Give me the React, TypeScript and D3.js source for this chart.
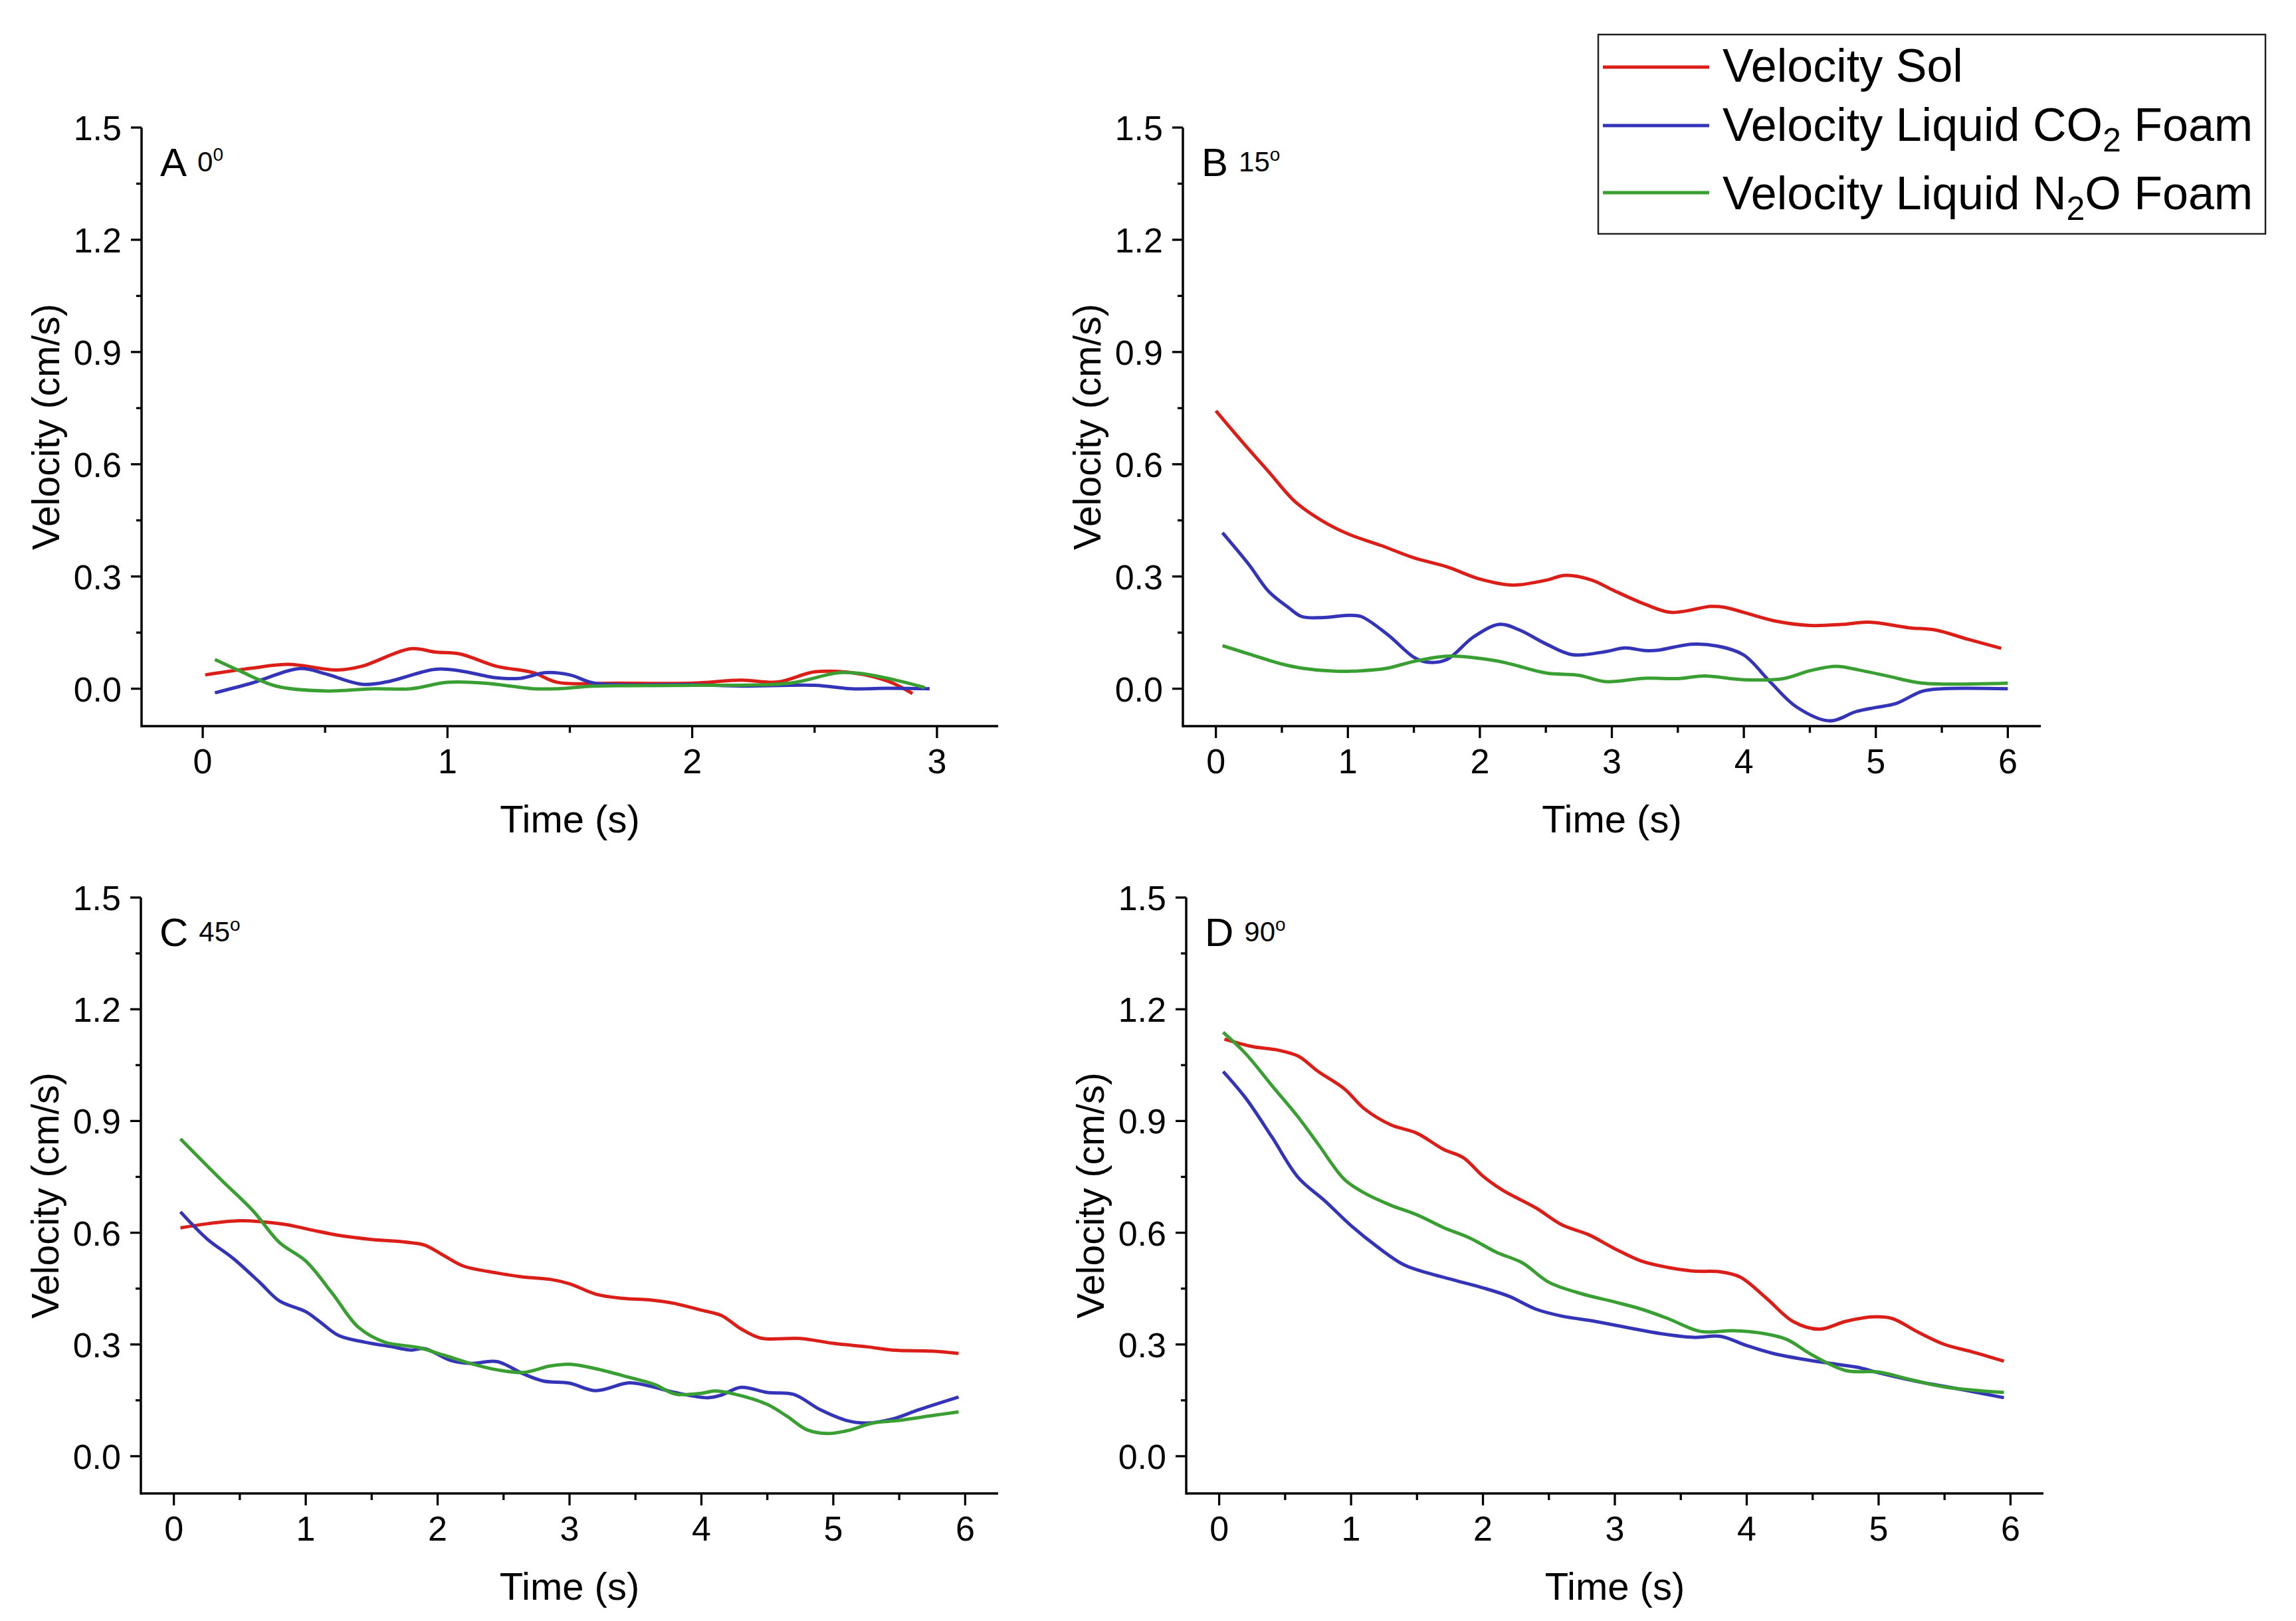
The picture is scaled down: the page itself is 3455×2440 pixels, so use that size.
import React from 'react';
import * as d3 from 'd3';

type Pt = [number, number];

// series values: [time (s), velocity (cm/s)]
const solA: Pt[] = [[0.01, 0.037], [0.2, 0.055], [0.35, 0.065], [0.55, 0.05], [0.65, 0.06], [0.85, 0.107], [0.95, 0.098], [1.05, 0.093], [1.2, 0.06], [1.35, 0.043], [1.45, 0.017], [1.7, 0.015], [2.0, 0.015], [2.2, 0.023], [2.35, 0.018], [2.5, 0.045], [2.65, 0.043], [2.8, 0.02], [2.9, -0.013]];
const co2A: Pt[] = [[0.05, -0.011], [0.2, 0.015], [0.4, 0.054], [0.5, 0.04], [0.65, 0.012], [0.75, 0.018], [0.95, 0.052], [1.05, 0.048], [1.2, 0.029], [1.3, 0.028], [1.4, 0.043], [1.5, 0.037], [1.6, 0.015], [2.0, 0.011], [2.2, 0.007], [2.5, 0.009], [2.65, 0], [2.8, 0.001], [2.97, 0]];
const n2oA: Pt[] = [[0.05, 0.078], [0.15, 0.048], [0.3, 0.007], [0.5, -0.006], [0.7, 0], [0.85, 0], [1.0, 0.017], [1.15, 0.015], [1.35, 0], [1.45, 0], [1.6, 0.007], [2.0, 0.009], [2.4, 0.015], [2.6, 0.043], [2.7, 0.04], [2.85, 0.02], [2.95, 0.003]];

const solB: Pt[] = [[0, 0.743], [0.2, 0.66], [0.4, 0.58], [0.6, 0.5], [0.8, 0.45], [1.0, 0.414], [1.25, 0.383], [1.5, 0.35], [1.75, 0.326], [2.0, 0.293], [2.25, 0.277], [2.5, 0.29], [2.65, 0.303], [2.85, 0.29], [3.0, 0.265], [3.25, 0.226], [3.45, 0.204], [3.75, 0.22], [3.85, 0.218], [4.0, 0.204], [4.25, 0.18], [4.5, 0.169], [4.75, 0.172], [4.95, 0.178], [5.25, 0.163], [5.45, 0.157], [5.7, 0.132], [5.95, 0.108]];
const co2B: Pt[] = [[0.05, 0.417], [0.25, 0.332], [0.4, 0.26], [0.55, 0.217], [0.65, 0.193], [0.8, 0.19], [1.0, 0.196], [1.1, 0.193], [1.3, 0.145], [1.5, 0.084], [1.6, 0.071], [1.75, 0.078], [1.95, 0.138], [2.15, 0.172], [2.3, 0.157], [2.5, 0.12], [2.7, 0.091], [2.95, 0.099], [3.1, 0.109], [3.25, 0.102], [3.35, 0.103], [3.6, 0.119], [3.8, 0.114], [4.0, 0.09], [4.2, 0.018], [4.4, -0.049], [4.65, -0.086], [4.85, -0.061], [5.0, -0.05], [5.15, -0.04], [5.35, -0.007], [5.5, 0], [6.0, 0]];
const n2oB: Pt[] = [[0.05, 0.115], [0.25, 0.093], [0.5, 0.066], [0.65, 0.055], [0.9, 0.047], [1.1, 0.048], [1.3, 0.055], [1.5, 0.073], [1.75, 0.087], [2.0, 0.081], [2.2, 0.069], [2.5, 0.042], [2.75, 0.036], [2.95, 0.019], [3.25, 0.028], [3.5, 0.027], [3.7, 0.034], [4.0, 0.024], [4.3, 0.027], [4.5, 0.048], [4.7, 0.06], [4.9, 0.048], [5.1, 0.033], [5.35, 0.015], [6.0, 0.015]];

const solC: Pt[] = [[0.05, 0.613], [0.25, 0.624], [0.5, 0.632], [0.65, 0.63], [0.85, 0.622], [1.05, 0.607], [1.25, 0.593], [1.5, 0.582], [1.75, 0.575], [1.9, 0.567], [2.05, 0.538], [2.2, 0.51], [2.45, 0.492], [2.65, 0.481], [2.85, 0.475], [3.0, 0.463], [3.2, 0.435], [3.4, 0.424], [3.6, 0.42], [3.8, 0.41], [4.0, 0.392], [4.15, 0.378], [4.3, 0.342], [4.45, 0.317], [4.75, 0.316], [5.0, 0.303], [5.25, 0.294], [5.45, 0.285], [5.75, 0.282], [5.95, 0.276]];
const co2C: Pt[] = [[0.05, 0.656], [0.25, 0.584], [0.45, 0.531], [0.65, 0.467], [0.8, 0.417], [1.0, 0.388], [1.1, 0.363], [1.25, 0.324], [1.45, 0.306], [1.65, 0.294], [1.8, 0.285], [1.9, 0.289], [2.1, 0.257], [2.25, 0.249], [2.45, 0.254], [2.65, 0.221], [2.8, 0.202], [3.0, 0.196], [3.2, 0.176], [3.45, 0.197], [3.6, 0.189], [3.8, 0.171], [4.05, 0.157], [4.15, 0.164], [4.3, 0.185], [4.5, 0.171], [4.7, 0.166], [4.9, 0.125], [5.1, 0.096], [5.25, 0.089], [5.45, 0.1], [5.65, 0.125], [5.95, 0.159]];
const n2oC: Pt[] = [[0.05, 0.852], [0.35, 0.745], [0.6, 0.659], [0.8, 0.574], [1.0, 0.524], [1.2, 0.438], [1.4, 0.346], [1.6, 0.306], [1.85, 0.292], [2.05, 0.271], [2.25, 0.249], [2.45, 0.232], [2.65, 0.225], [2.85, 0.242], [3.0, 0.247], [3.2, 0.235], [3.45, 0.212], [3.65, 0.192], [3.8, 0.167], [4.0, 0.169], [4.1, 0.175], [4.25, 0.167], [4.5, 0.139], [4.65, 0.107], [4.8, 0.071], [4.95, 0.061], [5.1, 0.068], [5.3, 0.089], [5.5, 0.096], [5.75, 0.109], [5.95, 0.119]];

const solD: Pt[] = [[0.04, 1.12], [0.25, 1.1], [0.45, 1.09], [0.6, 1.074], [0.75, 1.033], [0.95, 0.986], [1.1, 0.933], [1.3, 0.89], [1.5, 0.867], [1.7, 0.824], [1.85, 0.802], [2.0, 0.752], [2.15, 0.714], [2.4, 0.667], [2.6, 0.621], [2.8, 0.595], [3.0, 0.557], [3.2, 0.524], [3.4, 0.507], [3.6, 0.497], [3.8, 0.495], [3.95, 0.481], [4.15, 0.424], [4.35, 0.362], [4.55, 0.341], [4.75, 0.362], [4.95, 0.374], [5.1, 0.37], [5.3, 0.333], [5.5, 0.3], [5.7, 0.281], [5.95, 0.255]];
const co2D: Pt[] = [[0.03, 1.033], [0.2, 0.962], [0.4, 0.857], [0.6, 0.748], [0.8, 0.686], [1.0, 0.619], [1.2, 0.562], [1.4, 0.514], [1.6, 0.49], [1.8, 0.471], [2.0, 0.452], [2.2, 0.429], [2.4, 0.395], [2.6, 0.376], [2.85, 0.362], [3.1, 0.345], [3.35, 0.329], [3.6, 0.319], [3.8, 0.322], [4.0, 0.297], [4.2, 0.276], [4.45, 0.259], [4.7, 0.246], [4.85, 0.238], [5.0, 0.224], [5.3, 0.2], [5.6, 0.181], [5.95, 0.157]];
const n2oD: Pt[] = [[0.03, 1.138], [0.2, 1.081], [0.4, 0.995], [0.6, 0.91], [0.75, 0.838], [0.95, 0.743], [1.1, 0.707], [1.3, 0.674], [1.5, 0.648], [1.7, 0.614], [1.9, 0.586], [2.1, 0.548], [2.3, 0.519], [2.5, 0.467], [2.75, 0.436], [3.0, 0.414], [3.2, 0.395], [3.4, 0.37], [3.65, 0.335], [3.9, 0.337], [4.1, 0.331], [4.3, 0.314], [4.5, 0.271], [4.75, 0.23], [5.0, 0.226], [5.25, 0.205], [5.5, 0.186], [5.95, 0.171]];

const seriesNames = ['Velocity Sol', 'Velocity Liquid CO2 Foam', 'Velocity Liquid N2O Foam'];
const seriesColors = ['#DC1E18', '#3434B8', '#3A9F32'];
const yTicks = [0, 0.3, 0.6, 0.9, 1.2, 1.5];
const xTicksShort = [0, 1, 2, 3];
const xTicksLong = [0, 1, 2, 3, 4, 5, 6];

const FONT = '"Liberation Sans", Arial, Helvetica, sans-serif';

interface PanelDef {
  letter: string;
  angle: string;
  supText: string;
  xMax: number;
  xTicks: number[];
  series: Pt[][];
  left: number;
  right: number;
  top: number;
  bottom: number;
}

const panels: PanelDef[] = [
  { letter: 'A', angle: '0', supText: '0', xMax: 3, xTicks: xTicksShort, series: [solA, co2A, n2oA], left: 213, right: 1502, top: 192, bottom: 1093 },
  { letter: 'B', angle: '15', supText: 'o', xMax: 6, xTicks: xTicksLong, series: [solB, co2B, n2oB], left: 1780, right: 3071, top: 192, bottom: 1093 },
  { letter: 'C', angle: '45', supText: 'o', xMax: 6, xTicks: xTicksLong, series: [solC, co2C, n2oC], left: 212, right: 1502, top: 1351, bottom: 2248 },
  { letter: 'D', angle: '90', supText: 'o', xMax: 6, xTicks: xTicksLong, series: [solD, co2D, n2oD], left: 1785, right: 3075, top: 1351, bottom: 2248 },
];

const Panel: React.FC<{ p: PanelDef }> = ({ p }) => {
  const x = d3.scaleLinear().domain([-0.25, p.xMax + 0.25]).range([p.left, p.right]);
  const y = d3.scaleLinear().domain([-0.1, 1.5]).range([p.bottom, p.top]);
  const line = d3
    .line<Pt>()
    .x((d) => x(d[0]))
    .y((d) => y(d[1]))
    .curve(d3.curveCatmullRom.alpha(0.5));

  const xMinor = p.xTicks.slice(0, -1).map((t) => t + 0.5);
  const yMinor = yTicks.slice(0, -1).map((t) => t + 0.15);
  const cx = (p.left + p.right) / 2;
  const cy = (p.top + p.bottom) / 2;

  return (
    <g fontFamily={FONT}>
      {p.series.map((s, i) => (
        <path key={i} d={line(s) || ''} fill="none" stroke={seriesColors[i]} strokeWidth={5} strokeLinejoin="round" />
      ))}

      {/* axes */}
      <line x1={p.left} x2={p.right} y1={p.bottom} y2={p.bottom} stroke="#000" strokeWidth={3.5} />
      <line x1={p.left} x2={p.left} y1={p.top} y2={p.bottom + 1.75} stroke="#000" strokeWidth={3.5} />

      {p.xTicks.map((t) => (
        <g key={'x' + t}>
          <line x1={x(t)} x2={x(t)} y1={p.bottom} y2={p.bottom + 18} stroke="#000" strokeWidth={3.3} />
          <text x={x(t)} y={p.bottom + 71} fontSize={52} textAnchor="middle">{t}</text>
        </g>
      ))}
      {xMinor.map((t) => (
        <line key={'xm' + t} x1={x(t)} x2={x(t)} y1={p.bottom} y2={p.bottom + 10} stroke="#000" strokeWidth={3.3} />
      ))}

      {yTicks.map((t) => (
        <g key={'y' + t}>
          <line x1={p.left - 16} x2={p.left} y1={y(t)} y2={y(t)} stroke="#000" strokeWidth={3.3} />
          <text x={p.left - 30} y={y(t) + 19} fontSize={52} textAnchor="end">{t.toFixed(1)}</text>
        </g>
      ))}
      {yMinor.map((t) => (
        <line key={'ym' + t} x1={p.left - 8} x2={p.left} y1={y(t)} y2={y(t)} stroke="#000" strokeWidth={3.3} />
      ))}

      {/* axis titles */}
      <text x={cx} y={p.bottom + 160} fontSize={58} textAnchor="middle">Time (s)</text>
      <text transform={`translate(${p.left - 124},${cy}) rotate(-90)`} fontSize={57} textAnchor="middle">Velocity (cm/s)</text>

      {/* panel label */}
      <text x={p.left + 28} y={p.top + 73} fontSize={60}>
        {p.letter}
        <tspan fontSize={42} dx={16} dy={-7}>{p.angle}</tspan>
        <tspan fontSize={28} dy={-16}>{p.supText}</tspan>
      </text>
    </g>
  );
};

const Legend: React.FC = () => {
  const rows = [101, 189, 290];
  const base = [123, 212, 315];
  return (
    <g fontFamily={FONT}>
      <rect x={2405} y={52} width={1004} height={300} fill="#fff" stroke="#222" strokeWidth={2.5} />
      {seriesNames.map((n, i) => (
        <line key={n} x1={2412} x2={2572} y1={rows[i]} y2={rows[i]} stroke={seriesColors[i]} strokeWidth={5} />
      ))}
      <text x={2592} y={base[0]} fontSize={70}>Velocity Sol</text>
      <text x={2592} y={base[1]} fontSize={70}>
        Velocity Liquid CO<tspan fontSize={50} dy={16}>2</tspan>
        <tspan dy={-16}> Foam</tspan>
      </text>
      <text x={2592} y={base[2]} fontSize={70}>
        Velocity Liquid N<tspan fontSize={50} dy={16}>2</tspan>
        <tspan dy={-16}>O Foam</tspan>
      </text>
    </g>
  );
};

export default function App() {
  return (
    <svg
      width={3455}
      height={2440}
      viewBox="0 0 3455 2440"
      style={{ position: 'absolute', left: 0, top: 0, background: '#fff' }}
    >
      <rect width={3455} height={2440} fill="#fff" />
      {panels.map((p) => (
        <Panel key={p.letter} p={p} />
      ))}
      <Legend />
    </svg>
  );
}
